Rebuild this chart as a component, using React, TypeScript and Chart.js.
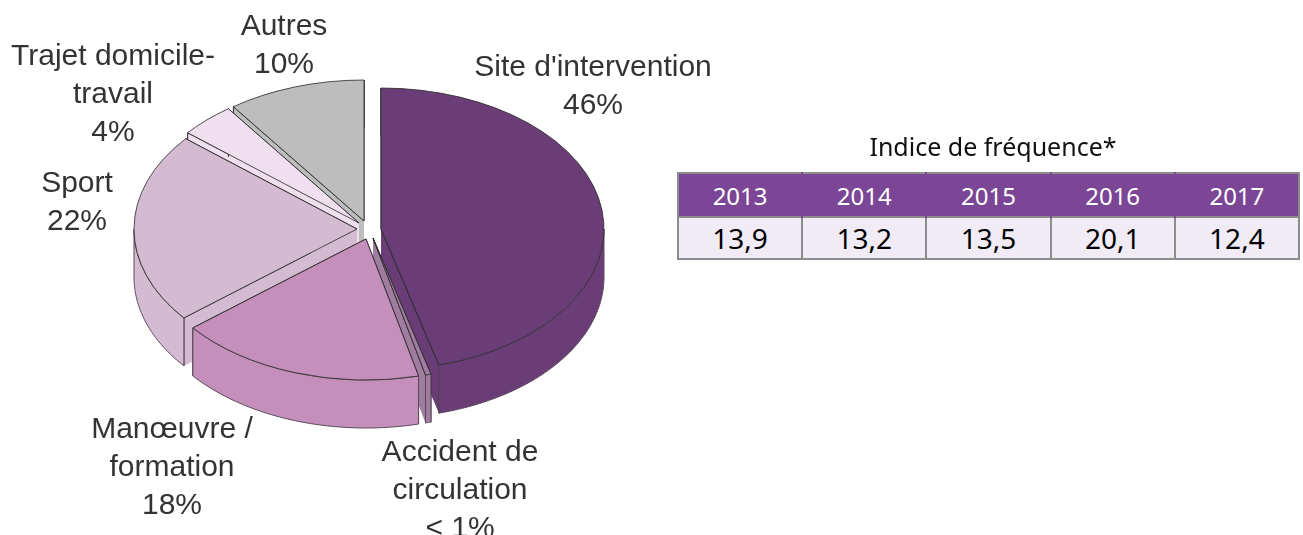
import React, { useEffect, useRef } from "react";
import { Chart, registerables } from "chart.js";

Chart.register(...registerables);

const categories = ["Site d'intervention", "Accident de circulation", "Manœuvre / formation", "Sport", "Trajet domicile-travail", "Autres"];
const shares = [46, 0.4, 18, 22, 4, 10];
const sliceColors = ["#6B3D77", "#A07DA0", "#C48FBB", "#D5BBD1", "#F0DFEE", "#BDBDBD"];
const labelLines = [
  ["Site d'intervention", "46%"],
  ["Accident de", "circulation", "< 1%"],
  ["Manœuvre /", "formation", "18%"],
  ["Sport", "22%"],
  ["Trajet domicile-", "travail", "4%"],
  ["Autres", "10%"],
];
const years = ["2013", "2014", "2015", "2016", "2017"];
const frequency = ["13,9", "13,2", "13,5", "20,1", "12,4"];
const tableTitle = "Indice de fréquence*";

// presentation constants
const PIE_CENTER = { x: 365, y: 225 };
const SQUASH = 141 / 223;
const DEPTH = 48;
const sliceApex = [[381, 229], [373, 238], [366, 239], [357, 229], [359, 223], [364, 221]];
const paintOrder = [5, 4, 3, 0, 1, 2];
const labelAnchors = [[593, 68], [460, 453], [172, 430], [77, 184], [113, 57], [284, 27]];
const LINE_STEP = 38;

const pie3d = {
  id: "pie3d",
  beforeDatasetsDraw(chart: any) {
    const { ctx } = chart;
    const arcs = chart.getDatasetMeta(0).data;
    for (const i of paintOrder) {
      const el = arcs[i];
      const [ax, ay] = sliceApex[i];
      const R = el.outerRadius;
      const a = el.startAngle;
      const b = el.endAngle;
      const pt = (t: number, extra = 0): [number, number] => [
        ax + R * Math.cos(t),
        ay + R * SQUASH * Math.sin(t) + extra,
      ];
      ctx.save();
      ctx.fillStyle = sliceColors[i];
      ctx.lineWidth = 1;
      ctx.lineJoin = "round";
      // cut faces
      for (const t of [a, b]) {
        const p = pt(t);
        ctx.beginPath();
        ctx.moveTo(ax, ay);
        ctx.lineTo(p[0], p[1]);
        ctx.lineTo(p[0], p[1] + DEPTH);
        ctx.lineTo(ax, ay + DEPTH);
        ctx.closePath();
        ctx.fill();
        ctx.strokeStyle = "#222";
        ctx.beginPath();
        ctx.moveTo(ax, ay);
        ctx.lineTo(p[0], p[1]);
        ctx.lineTo(p[0], p[1] + DEPTH);
        ctx.stroke();
      }
      // rim, front half only
      const t0 = Math.max(a, 0);
      const t1 = Math.min(b, Math.PI);
      if (t1 > t0) {
        ctx.beginPath();
        const steps = 60;
        for (let s = 0; s <= steps; s++) {
          const p = pt(t0 + ((t1 - t0) * s) / steps);
          s === 0 ? ctx.moveTo(p[0], p[1]) : ctx.lineTo(p[0], p[1]);
        }
        for (let s = steps; s >= 0; s--) {
          const p = pt(t0 + ((t1 - t0) * s) / steps, DEPTH);
          ctx.lineTo(p[0], p[1]);
        }
        ctx.closePath();
        ctx.fill();
        ctx.strokeStyle = "#5a4a5a";
        ctx.stroke();
      }
      // top face drawn by the arc element itself
      ctx.translate(ax, ay);
      ctx.scale(1, SQUASH);
      ctx.translate(-el.x, -el.y);
      el.draw(ctx);
      ctx.restore();
    }
    return false;
  },
  afterDraw(chart: any) {
    const { ctx } = chart;
    ctx.save();
    ctx.fillStyle = "#333";
    ctx.font = '30px "Liberation Sans", Arial, sans-serif';
    ctx.textAlign = "center";
    ctx.textBaseline = "middle";
    labelLines.forEach((lines, i) => {
      lines.forEach((line, j) => {
        ctx.fillText(line, labelAnchors[i][0], labelAnchors[i][1] + j * LINE_STEP);
      });
    });
    ctx.restore();
  },
};

const cellFont = '"Noto Sans", "Open Sans", sans-serif';
const GRID = "2px solid #8c8c8c";

export default function App() {
  const ref = useRef<HTMLCanvasElement>(null);
  useEffect(() => {
    const chart = new Chart(ref.current!, {
      type: "pie",
      data: {
        labels: categories,
        datasets: [{ data: shares, backgroundColor: sliceColors, borderColor: "#2a2a2a", borderWidth: 1 }],
      },
      options: {
        animation: false,
        responsive: false,
        radius: 223,
        layout: {
          padding: {
            left: 0,
            top: 0,
            right: 1303 - PIE_CENTER.x * 2,
            bottom: 535 - PIE_CENTER.y * 2,
          },
        },
        plugins: { legend: { display: false }, tooltip: { enabled: false } },
      } as any,
      plugins: [pie3d],
    });
    return () => chart.destroy();
  }, []);

  return (
    <div style={{ position: "fixed", left: 0, top: 0, width: 1303, height: 535, overflow: "hidden", background: "#fff" }}>
      <canvas ref={ref} width={1303} height={535} style={{ display: "block", position: "absolute", left: 0, top: 0 }} />
      <div
        style={{
          position: "absolute",
          left: 677,
          top: 127,
          width: 632,
          textAlign: "center",
          fontFamily: cellFont,
          fontSize: 25,
          lineHeight: "38px",
          color: "#111",
        }}
      >
        {tableTitle}
      </div>
      <table
        style={{
          position: "absolute",
          left: 677,
          top: 172,
          width: 623,
          height: 87,
          borderCollapse: "collapse",
          tableLayout: "fixed",
          fontFamily: cellFont,
          textAlign: "center",
        }}
      >
        <tbody>
          <tr style={{ height: 44, background: "#7B4695", color: "#fff", fontSize: 24 }}>
            {years.map((y, i) => (
              <td
                key={y}
                style={{
                  padding: 0,
                  borderTop: GRID,
                  borderLeft: i === 0 ? GRID : "2px solid #7B4695",
                  borderRight: i === years.length - 1 ? GRID : "2px solid #7B4695",
                }}
              >
                {y}
              </td>
            ))}
          </tr>
          <tr style={{ height: 42, background: "#F0EBF5", color: "#000", fontSize: 28 }}>
            {frequency.map((v, i) => (
              <td key={years[i]} style={{ padding: 0, border: GRID }}>{v}</td>
            ))}
          </tr>
        </tbody>
      </table>
    </div>
  );
}
